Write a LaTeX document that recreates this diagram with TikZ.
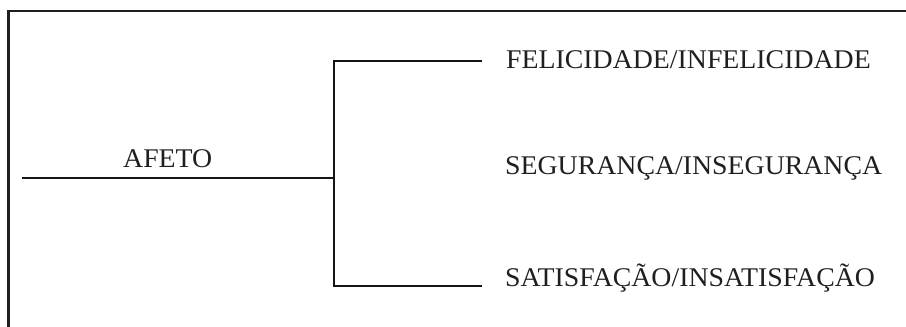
\documentclass[tikz,border=0pt]{standalone}
\usepackage{fontspec}
\setmainfont{Liberation Serif}[FakeStretch=1.03]
\begin{document}
\begin{tikzpicture}[x=1pt,y=-1pt,
  branch/.style={line width=2.4pt, color=black!92},
  label/.style={inner sep=0pt, font=\fontsize{27}{32}\selectfont, text=black!88}]
\useasboundingbox (0,0) rectangle (906,327);
\clip (0,0) rectangle (906,327);
% outer frame (runs past the right and bottom edges)
\draw[line width=2.8pt, color=black!88] (8.5,11) rectangle (940,360);

% labels
\node[label, anchor=base west] (afeto) at (123,167) {AFETO};
\node[label, anchor=base west] (fel) at (506,68) {FELICIDADE/INFELICIDADE};
\node[label, anchor=base west] (seg) at (505,174) {SEGURANÇA/INSEGURANÇA};
\node[label, anchor=base west] (sat) at (505,286) {SATISFAÇÃO/INSATISFAÇÃO};

% bracket
\coordinate (root) at (22,178);
\coordinate (fork) at (334,178);
\coordinate (ftop) at (334,61);
\coordinate (fbot) at (334,286);
\coordinate (etop) at (482,61);
\coordinate (ebot) at (482,286);
\draw[branch] (root) -- (fork);
\draw[branch] (etop) -- (ftop) -- (fbot) -- (ebot);
\end{tikzpicture}
\end{document}
